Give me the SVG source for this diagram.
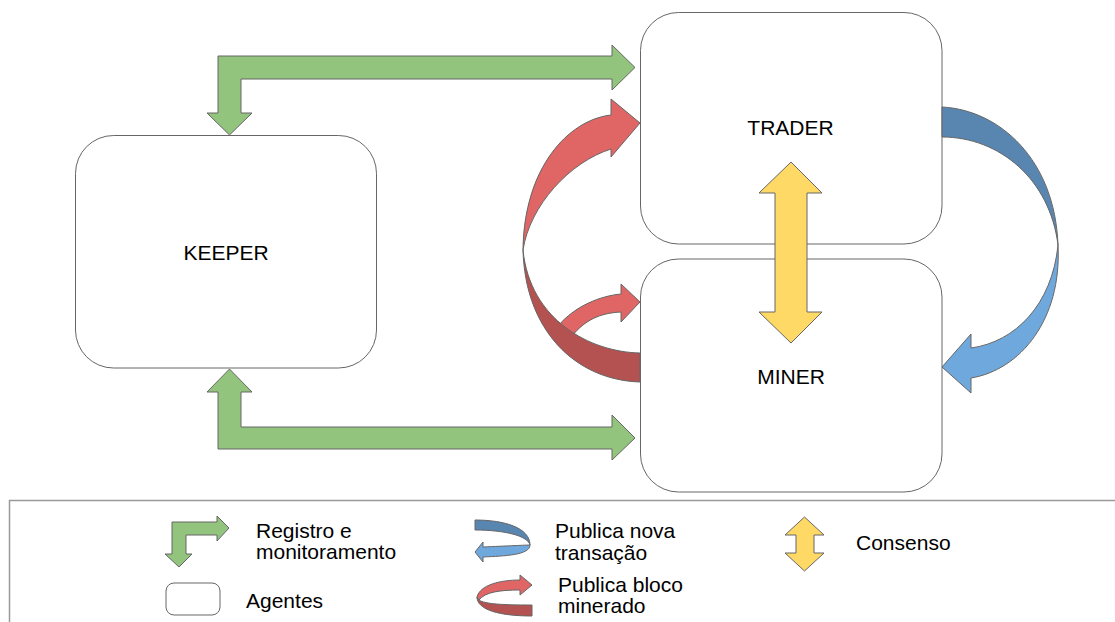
<svg xmlns="http://www.w3.org/2000/svg" width="1115" height="622" viewBox="0 0 1115 622">
<style>
.box{fill:#ffffff;stroke:#666666;stroke-width:1}
.lbl{font-family:"Liberation Sans",Arial,sans-serif;font-size:21px;fill:#000000}
.green{fill:#93C47D;stroke:#666666;stroke-width:1}
.redl{fill:#E06666;stroke:#666666;stroke-width:1}
.redd{fill:#B45151;stroke:#666666;stroke-width:1}
.bluel{fill:#6FA8DC;stroke:#666666;stroke-width:1}
.blued{fill:#5886B0;stroke:#666666;stroke-width:1}
.yellow{fill:#FFD966;stroke:#666666;stroke-width:1}
</style>
<rect width="1115" height="622" fill="#ffffff"/>

<g id="keeper">
<rect class="box" x="75.5" y="135.5" width="301" height="232.5" rx="38" ry="38"/>
<text class="lbl" x="226" y="260" text-anchor="middle">KEEPER</text>
</g>
<g id="trader">
<rect class="box" x="640.5" y="12.5" width="301.5" height="231.5" rx="38" ry="38"/>
<text class="lbl" x="790.5" y="135" text-anchor="middle">TRADER</text>
</g>
<g id="miner">
<rect class="box" x="640.5" y="259" width="301.5" height="233" rx="38" ry="38"/>
<text class="lbl" x="791" y="384" text-anchor="middle">MINER</text>
</g>

<g id="connectors">
<polygon class="green" points="218,113 207,113 229.5,135 252,113 241,113 241,79 612,79 612,90 635,67.5 612,45 612,56 218,56"/>
<polygon class="green" points="229.5,369 252,392 241,392 241,427 612,427 612,415 635,438 612,460 612,449 218,449 218,392 207,392"/>
<path class="redl" d="M611,115 L611,99 L640,123 L611,157 L611,149 C570,162 530,205 523,250 C524,168 568,120 611,115 Z"/>
<path class="redl" d="M558,326 C575,306 600,296 621,294 L621,284 L640,302 L621,322 L621,312 C600,313 585,320 572,336 Z"/>
<path class="redd" d="M523,250 C525,330 575,380 640,382 L640,353 C590,352 530,320 523,250 Z"/>
<path class="blued" d="M942,107 C1000,110 1055,160 1058,245 C1050,180 1000,137 942,137 Z"/>
<path class="bluel" d="M1058,245 C1062,320 1020,370 971,378 L971,393 L942,367 L971,334 L971,348 C1015,342 1052,305 1058,245 Z"/>
<polygon class="yellow" points="791,162 822,193 807,193 807,312 822,312 791,343 759,312 775,312 775,193 759,193"/>
</g>

<g id="legend">
<rect x="9.5" y="500.5" width="1200" height="200" fill="none" stroke="#9a9a9a" stroke-width="1.5"/>
<polygon class="green" points="172,554 165,554 179,567 192,554 186,554 186,535 217,535 217,541 229,528 217,516 217,522 172,522"/>
<text class="lbl" x="256" y="538">Registro e</text>
<text class="lbl" x="256" y="559">monitoramento</text>
<rect class="box" x="166" y="583" width="54" height="32" rx="8" ry="8"/>
<text class="lbl" x="246" y="608">Agentes</text>
<path class="blued" d="M475,520 C505,520 530,528 530,545 C528,536 505,530 475,530 Z"/>
<path class="bluel" d="M530,545 C530,555 505,556 483,557 L483,562 L475,552 L483,542 L483,547 C505,546 528,545 530,545 Z"/>
<text class="lbl" x="555" y="538">Publica nova</text>
<text class="lbl" x="555" y="560">transação</text>
<path class="redl" d="M477,597 C480,585 500,580 520,580 L520,575 L532,585 L520,595 L520,590 C500,590 485,592 479,600 Z"/>
<path class="redd" d="M477,597 C477,604 500,605 532,605 L532,616 C500,616 477,610 477,597 Z"/>
<text class="lbl" x="558" y="592">Publica bloco</text>
<text class="lbl" x="558" y="613">minerado</text>
<polygon class="yellow" points="804.5,517 824,535 814,535 814,553 824,553 804.5,571 785,553 796,553 796,535 785,535"/>
<text class="lbl" x="856" y="550">Consenso</text>
</g>
</svg>
